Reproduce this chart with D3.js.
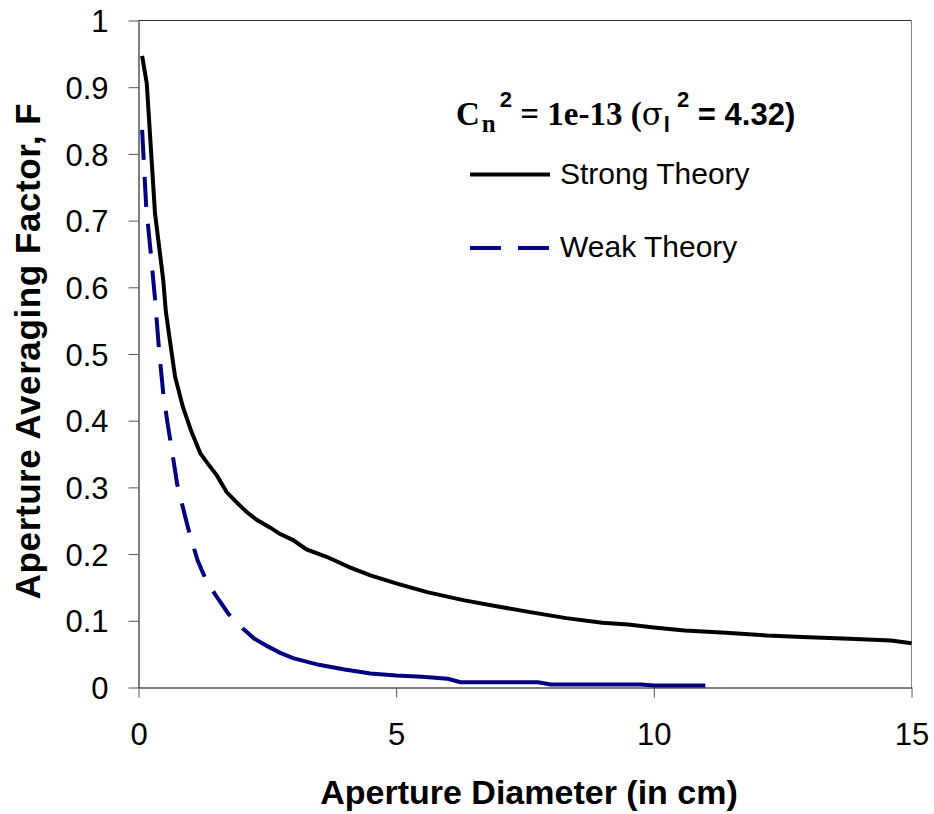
<!DOCTYPE html>
<html>
<head>
<meta charset="utf-8">
<script src="https://cdn.jsdelivr.net/npm/d3@7"></script>
<style>
  body { margin: 0; background: #fff; }
  svg { display: block; }
</style>
</head>
<body>
<div id="chart"></div>
<script>
// data
var xTicks = [0, 5, 10, 15];
var yTicks = [0, 0.1, 0.2, 0.3, 0.4, 0.5, 0.6, 0.7, 0.8, 0.9, 1];
var yTickLabels = ["0", "0.1", "0.2", "0.3", "0.4", "0.5", "0.6", "0.7", "0.8", "0.9", "1"];

var strongD = [0.07, 0.16, 0.32, 0.48, 0.53, 0.61, 0.71, 0.86, 1.03, 1.2, 1.37, 1.52, 1.71, 1.9, 2.1, 2.3,
  2.55, 2.75, 3.0, 3.26, 3.65, 4.1, 4.5, 5.0, 5.6, 6.3, 7.0, 7.6, 8.3, 9.0, 9.5, 10.0, 10.6, 11.4,
  12.2, 13.0, 13.8, 14.6, 15.0];
var strongF = [0.947, 0.906, 0.711, 0.611, 0.564, 0.52, 0.466, 0.421, 0.383, 0.351, 0.333, 0.318, 0.293, 0.278, 0.263, 0.251,
  0.240, 0.230, 0.221, 0.207, 0.196, 0.180, 0.168, 0.156, 0.143, 0.131, 0.121, 0.113, 0.104, 0.097, 0.0945, 0.090, 0.0855, 0.082,
  0.078, 0.0755, 0.073, 0.0705, 0.0665];

var weakD = [0.07, 0.15, 0.24, 0.32, 0.4, 0.48, 0.56, 0.65, 0.75, 0.9, 1.0, 1.15, 1.3, 1.5, 1.75, 2.03, 2.25, 2.5, 2.75,
  3.0, 3.5, 4.0, 4.5, 5.0, 5.5, 6.0, 6.25, 6.75, 7.25, 7.75, 8.0, 8.5, 9.0, 9.5, 9.75, 10.0, 10.5, 11.0];
var weakF = [0.836, 0.72, 0.65, 0.583, 0.505, 0.441, 0.398, 0.355, 0.305, 0.258, 0.228, 0.19, 0.163, 0.138, 0.11, 0.088, 0.073, 0.062, 0.052,
  0.044, 0.034, 0.027, 0.021, 0.018, 0.016, 0.013, 0.008, 0.008, 0.008, 0.008, 0.0045, 0.0045, 0.0045, 0.0045, 0.0045, 0.003, 0.003, 0.003];

var seriesNames = ["Strong Theory", "Weak Theory"];

var width = 934, height = 814;
var weakDashedUpTo = 2.03; // reference shows dashes only on the steep part

var svg = d3.select("#chart")
  .append("svg")
    .attr("width", width)
    .attr("height", height);

var x = d3.scaleLinear().domain([0, 15]).range([138.5, 911.5]);
var y = d3.scaleLinear().domain([0, 1]).range([687.5, 20.5]);

// plot area border (top and right)
svg.append("line")
  .attr("x1", x(0)).attr("x2", x(15))
  .attr("y1", y(1)).attr("y2", y(1))
  .attr("stroke", "#333").attr("stroke-width", 1);
svg.append("line")
  .attr("x1", x(15)).attr("x2", x(15))
  .attr("y1", y(1)).attr("y2", y(0))
  .attr("stroke", "#888").attr("stroke-width", 1);

// Y axis
var yAxis = svg.append("g")
  .attr("transform", "translate(" + x(0) + ",0)")
  .call(d3.axisLeft(y)
    .tickValues(yTicks)
    .tickFormat(function(d, i) { return yTickLabels[i]; })
    .tickSize(10)
    .tickSizeOuter(0)
    .tickPadding(20));
yAxis.selectAll("text")
  .style("font-family", "Liberation Sans, Arial, sans-serif")
  .style("font-size", "31px")
  .attr("fill", "#000")
  .attr("dy", "0.36em");
yAxis.select(".domain").attr("stroke", "#000");
yAxis.selectAll(".tick line").attr("stroke", "#555");

// X axis
var xAxis = svg.append("g")
  .attr("transform", "translate(0," + y(0) + ")")
  .call(d3.axisBottom(x)
    .tickValues(xTicks)
    .tickFormat(d3.format("d"))
    .tickSize(10)
    .tickSizeOuter(0)
    .tickPadding(25));
xAxis.selectAll("text")
  .style("font-family", "Liberation Sans, Arial, sans-serif")
  .style("font-size", "31px")
  .attr("fill", "#000");
xAxis.select(".domain").attr("stroke", "#000");
xAxis.selectAll(".tick line").attr("stroke", "#555");

// axis titles
svg.append("text")
  .attr("x", 529)
  .attr("y", 804)
  .attr("text-anchor", "middle")
  .style("font-family", "Liberation Sans, Arial, sans-serif")
  .style("font-size", "34px")
  .style("font-weight", "bold")
  .text("Aperture Diameter (in cm)");

svg.append("text")
  .attr("transform", "translate(40,351) rotate(-90)")
  .attr("text-anchor", "middle")
  .style("font-family", "Liberation Sans, Arial, sans-serif")
  .style("font-size", "35px")
  .style("font-weight", "bold")
  .style("letter-spacing", "0.6px")
  .text("Aperture Averaging Factor, F");

// lines
var line = d3.line()
  .x(function(d) { return x(d[0]); })
  .y(function(d) { return y(d[1]); });

var strong = strongD.map(function(d, i) { return [d, strongF[i]]; });
var weak = weakD.map(function(d, i) { return [d, weakF[i]]; });

svg.append("path")
  .datum(strong)
  .attr("fill", "none")
  .attr("stroke", "#000")
  .attr("stroke-width", 4)
  .attr("d", line);

svg.append("path")
  .datum(weak.filter(function(d) { return d[0] <= weakDashedUpTo; }))
  .attr("fill", "none")
  .attr("stroke", "#000080")
  .attr("stroke-width", 4)
  .attr("stroke-dasharray", "30,17")
  .attr("d", line);

svg.append("path")
  .datum(weak.filter(function(d) { return d[0] >= weakDashedUpTo; }))
  .attr("fill", "none")
  .attr("stroke", "#000080")
  .attr("stroke-width", 4)
  .attr("d", line);

// legend title
var serif = "Liberation Serif, Times New Roman, serif";
var sans = "Liberation Sans, Arial, sans-serif";
var title = svg.append("text")
  .attr("x", 456)
  .attr("y", 125)
  .style("font-weight", "bold")
  .style("font-size", "33px");
title.append("tspan").style("font-family", serif).text("C");
title.append("tspan").style("font-family", serif)
  .style("font-size", "25px").attr("dx", 2).attr("dy", 7).text("n");
title.append("tspan").style("font-family", sans)
  .style("font-size", "22px").attr("dx", 4).attr("dy", -25).text("2");
title.append("tspan").style("font-family", serif)
  .attr("dy", 18).text(" = 1e-13 (");
title.append("tspan").style("font-family", "DejaVu Serif, serif").style("font-weight", "normal")
  .style("font-size", "31px").text("σ");
title.append("tspan").style("font-family", sans)
  .style("font-size", "22px").attr("dx", 1).attr("dy", 7).text("l");
title.append("tspan").style("font-family", sans)
  .style("font-size", "22px").attr("dx", 7).attr("dy", -25).text("2");
title.append("tspan").style("font-family", sans)
  .style("font-size", "31px").attr("dy", 18).text(" = 4.32)");

// legend entries
var legendY = [174.5, 248];
var legend = svg.selectAll(".legend")
  .data(seriesNames)
  .enter().append("g")
    .attr("class", "legend");

legend.append("line")
  .attr("x1", 470).attr("x2", 550)
  .attr("y1", function(d, i) { return legendY[i]; })
  .attr("y2", function(d, i) { return legendY[i]; })
  .attr("stroke", function(d, i) { return i === 0 ? "#000" : "#000080"; })
  .attr("stroke-width", 4)
  .attr("stroke-dasharray", function(d, i) { return i === 0 ? null : "31,17"; });

legend.append("text")
  .attr("x", 560)
  .attr("y", function(d, i) { return legendY[i] + 9; })
  .style("font-family", sans)
  .style("font-size", "30px")
  .text(function(d) { return d; });
</script>
</body>
</html>
